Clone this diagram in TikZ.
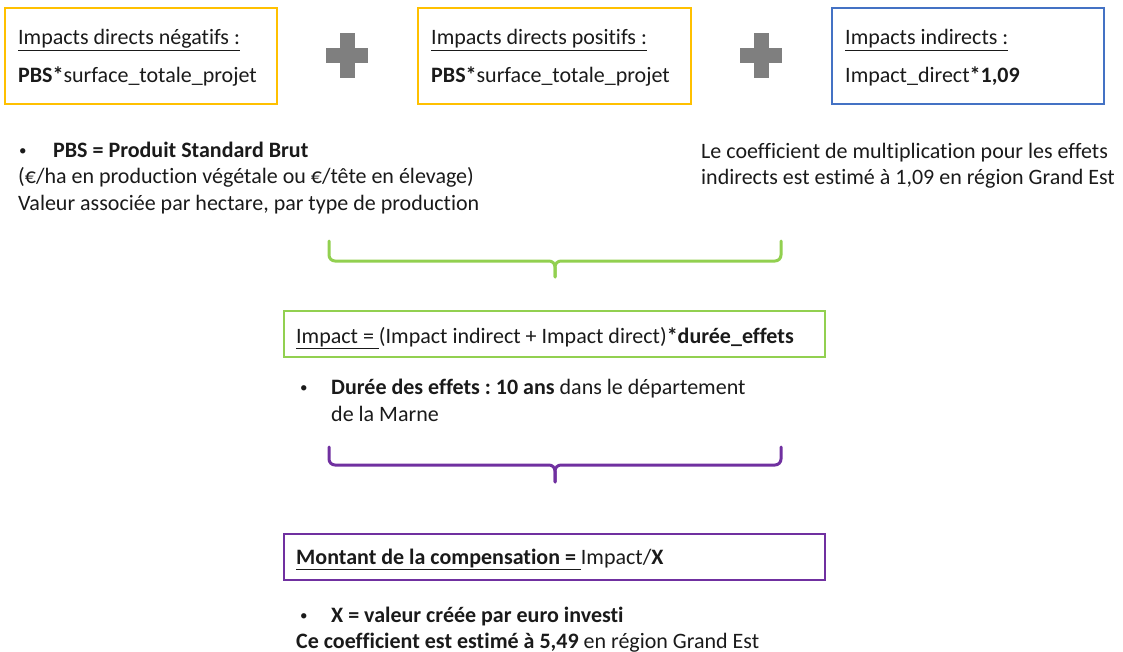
\documentclass[tikz,border=0pt]{standalone}
\usepackage{fontspec}
\setmainfont{Carlito}[Ligatures = NoCommon]
\usetikzlibrary{positioning}
\frenchspacing

\definecolor{jaune}{HTML}{FFC000}
\definecolor{bleu}{HTML}{4472C4}
\definecolor{vert}{HTML}{92D050}
\definecolor{violet}{HTML}{7030A0}
\definecolor{plusgris}{HTML}{7F7F7F}
\definecolor{texte}{HTML}{1A1A1A}

\newcommand{\puce}{{\fontsize{15}{15}\selectfont\raisebox{2pt}{•}}}

\begin{document}
\begin{tikzpicture}[x = 1pt, y = -1pt, font = \fontsize{22}{27}\selectfont, text = texte,
  cadre/.style = {draw, line width = 2.6pt, inner sep = 0},
  txt/.style = {anchor = base west, inner sep = 0},
  accolade/.style = {line width = 3pt, rounded corners = 6pt, line cap = round}]
\useasboundingbox (0,0) rectangle (1123,652);

% three terms of the sum
\node[cadre, draw = jaune, minimum width = 272, minimum height = 96] (neg) at (141,56) {};
\node[cadre, draw = jaune, minimum width = 273, minimum height = 96] (pos) at (554.5,56) {};
\node[cadre, draw = bleu, minimum width = 272, minimum height = 96] (ind) at (968,56) {};
\node[txt] (negtitre) at (18,45) {\underline{Impacts directs négatifs :}};
\node[txt] (negcalc) at (18,83) {\textbf{PBS*}surface\_totale\_projet};
\node[txt] (postitre) at (431,45) {\underline{Impacts directs positifs :}};
\node[txt] (poscalc) at (431,83) {\textbf{PBS*}surface\_totale\_projet};
\node[txt] (indtitre) at (845,45) {\underline{Impacts indirects :}};
\node[txt] (indcalc) at (845,83) {Impact\_direct\textbf{*1,09}};

% plus signs
\foreach \cx in {347, 761} {
  \fill[plusgris] (\cx-21,48) rectangle (\cx+21,63);
  \fill[plusgris] (\cx-7.5,33) rectangle (\cx+7.5,78);
}

% notes under the terms
\node[txt] (puce1) at (19,158) {\puce};
\node[txt] (pbs) at (53,158) {\textbf{PBS = Produit Standard Brut}};
\node[txt] (pbs2) at (18,184) {(€/ha en production végétale ou €/tête en élevage)};
\node[txt] (pbs3) at (18,211) {Valeur associée par hectare, par type de production};
\node[txt] (coef1) at (701,159) {Le coefficient de multiplication pour les effets};
\node[txt] (coef2) at (701,185) {indirects est estimé à 1,09 en région Grand Est};

% first brace
\draw[accolade, vert] (329,241) -- (329,261) -- (555,261) -- (555,277);
\draw[accolade, vert] (781,241) -- (781,261) -- (555,261) -- (555,277);

\node[cadre, draw = vert, minimum width = 541, minimum height = 46] (impact) at (554.5,334) {};
\node[txt] (impacttxt) at (296,343) {\underline{Impact =\ }(Impact indirect + Impact direct)\textbf{*durée\_effets}};
\node[txt] (puce2) at (300,394) {\puce};
\node[txt] (duree) at (331,394) {\textbf{Durée des effets : 10 ans} dans le département};
\node[txt] (duree2) at (331,421) {de la Marne};

% second brace
\draw[accolade, violet] (329,447) -- (329,465) -- (555,465) -- (555,482);
\draw[accolade, violet] (781,447) -- (781,465) -- (555,465) -- (555,482);

\node[cadre, draw = violet, minimum width = 541, minimum height = 46] (montant) at (554.5,557) {};
\node[txt] (montanttxt) at (296,564) {\underline{\textbf{Montant de la compensation =\ }}Impact/\textbf{X}};
\node[txt] (puce3) at (300,622) {\puce};
\node[txt] (valx) at (331,622) {\textbf{X = valeur créée par euro investi}};
\node[txt] (valx2) at (296,648) {\textbf{Ce coefficient est estimé à 5,49} en région Grand Est};
\end{tikzpicture}
\end{document}
